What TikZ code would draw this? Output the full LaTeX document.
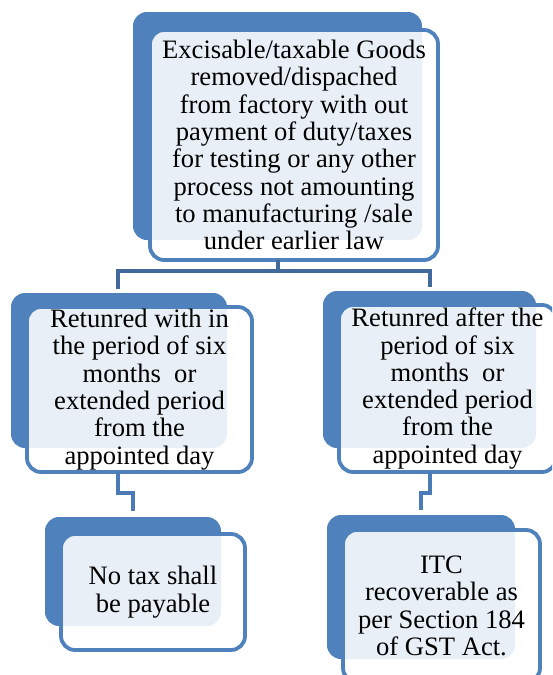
\documentclass[tikz,border=0pt]{standalone}
\usepackage{fontspec}
\setmainfont{Liberation Serif}
\begin{document}
\definecolor{accent}{HTML}{4F81BD}
\definecolor{linkdark}{HTML}{41699B}
\definecolor{linklight}{HTML}{4A7BB7}
\begin{tikzpicture}[x=1pt,y=-1pt,
  backbox/.style={draw=none,fill=accent,rounded corners=14pt,inner sep=0pt,outer sep=0pt},
  frontbox/.style={draw=accent,line width=3.8pt,fill=white,fill opacity=0.88,text opacity=1,
    rounded corners=14pt,inner sep=0pt,outer sep=0pt,align=center,
    font=\fontsize{26.6}{27.3}\selectfont},
  link/.style={line width=4pt,draw=linkdark},
  linkb/.style={line width=4pt,draw=linklight}]
\useasboundingbox (0,0) rectangle (552,675);
\clip (0,0) rectangle (552,675);

% junction points of the connectors
\coordinate (jt) at (277.5,271);
\coordinate (jl) at (118,271);
\coordinate (jr) at (429.5,271);
\coordinate (el) at (118,289);
\coordinate (er) at (429.5,287);
\coordinate (kl1) at (118,493);
\coordinate (kl2) at (133,493);
\coordinate (kl3) at (133,511);
\coordinate (kr1) at (429.5,493);
\coordinate (kr2) at (421,493);
\coordinate (kr3) at (421,510);

% back panels
\node[backbox,minimum width=289,minimum height=228] (topB) at (277.5,126) {};
\node[backbox,minimum width=216,minimum height=155] (lmB) at (119,370.5) {};
\node[backbox,minimum width=213,minimum height=157] (rmB) at (429.5,369.5) {};
\node[backbox,minimum width=176,minimum height=109] (lbB) at (133,571.5) {};
\node[backbox,minimum width=188,minimum height=144] (rbB) at (421,587) {};

% front panels with text
\node[frontbox,minimum width=288,minimum height=230] (topF) at (294,145)
  {Excisable/taxable Goods\\removed/dispached\\from factory with out\\payment of duty/taxes\\for testing or any other\\process not amounting\\to manufacturing /sale\\under earlier law};
\node[frontbox,minimum width=225,minimum height=165] (lmF) at (139.5,389.5)
  {Retunred with in\\the period of six\\months\ \ or\\extended period\\from the\\appointed day};
\node[frontbox,minimum width=217,minimum height=167] (rmF) at (447.5,388.5)
  {Retunred after the\\period of six\\months\ \ or\\extended period\\from the\\appointed day};
\node[frontbox,minimum width=184,minimum height=116] (lbF) at (153,592)
  {No tax shall\\be payable};
\node[frontbox,minimum width=197,minimum height=152] (rbF) at (441.5,606)
  {ITC\\recoverable as\\per Section 184\\of GST Act.};

% connectors
\draw[link] (topF.south -| jt) -- (jt);
\draw[link] (el) -- (jl) -- (jr) -- (er);
\draw[linkb] (lmF.south -| kl1) -- (kl1) -- (kl2) -- (kl3);
\draw[linkb] (rmF.south -| kr1) -- (kr1) -- (kr2) -- (kr3);
\end{tikzpicture}
\end{document}
